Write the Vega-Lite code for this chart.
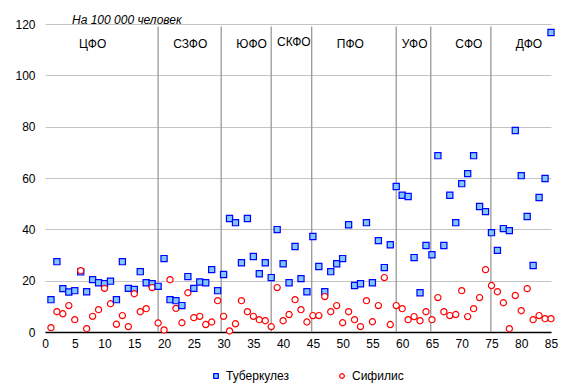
{
  "$schema": "https://vega.github.io/schema/vega-lite/v6.json",
  "autosize": {"type": "none"},
  "padding": {"left": 45, "top": 24, "right": 24, "bottom": 60},
  "width": 506,
  "height": 308,
  "title": {"text": "На 100 000 человек", "anchor": "start", "frame": "group", "dx": 27, "dy": 13, "offset": 4, "fontSize": 12, "fontStyle": "italic", "fontWeight": "normal", "font": "Liberation Sans", "color": "#000000"},
  "config": {
    "view": {"stroke": null},
    "font": "Liberation Sans",
    "axis": {"labelFont": "Liberation Sans", "labelFontSize": 12, "labelColor": "#000000", "ticks": false, "title": null, "labelOverlap": false},
    "legend": {"labelFont": "Liberation Sans", "labelFontSize": 12, "labelColor": "#000000"}
  },
  "datasets": {
    "pts": [
      {"n": 1, "Туберкулез": 12.6, "Сифилис": 1.7},
      {"n": 2, "Туберкулез": 27.4, "Сифилис": 7.9},
      {"n": 3, "Туберкулез": 16.9, "Сифилис": 7.1},
      {"n": 4, "Туберкулез": 15.6, "Сифилис": 10.3},
      {"n": 5, "Туберкулез": 16.1, "Сифилис": 4.8},
      {"n": 6, "Туберкулез": 23.4, "Сифилис": 23.9},
      {"n": 7, "Туберкулез": 15.7, "Сифилис": 1.3},
      {"n": 8, "Туберкулез": 20.4, "Сифилис": 6.1},
      {"n": 9, "Туберкулез": 19.2, "Сифилис": 8.7},
      {"n": 10, "Туберкулез": 18.8, "Сифилис": 17.0},
      {"n": 11, "Туберкулез": 19.8, "Сифилис": 11.0},
      {"n": 12, "Туберкулез": 12.6, "Сифилис": 3.0},
      {"n": 13, "Туберкулез": 27.4, "Сифилис": 6.4},
      {"n": 14, "Туберкулез": 17.0, "Сифилис": 2.1},
      {"n": 15, "Туберкулез": 16.6, "Сифилис": 14.9},
      {"n": 16, "Туберкулез": 23.5, "Сифилис": 7.9},
      {"n": 17, "Туберкулез": 19.2, "Сифилис": 9.1},
      {"n": 18, "Туберкулез": 18.8, "Сифилис": 17.3},
      {"n": 19, "Туберкулез": 17.8, "Сифилис": 3.5},
      {"n": 20, "Туберкулез": 28.6, "Сифилис": 0.8},
      {"n": 21, "Туберкулез": 12.6, "Сифилис": 20.4},
      {"n": 22, "Туберкулез": 12.2, "Сифилис": 9.2},
      {"n": 23, "Туберкулез": 10.3, "Сифилис": 3.6},
      {"n": 24, "Туберкулез": 21.6, "Сифилис": 15.3},
      {"n": 25, "Туберкулез": 17.0, "Сифилис": 5.6},
      {"n": 26, "Туберкулез": 19.5, "Сифилис": 6.1},
      {"n": 27, "Туберкулез": 19.2, "Сифилис": 2.9},
      {"n": 28, "Туберкулез": 24.3, "Сифилис": 3.9},
      {"n": 29, "Туберкулез": 16.1, "Сифилис": 12.2},
      {"n": 30, "Туберкулез": 22.4, "Сифилис": 6.1},
      {"n": 31, "Туберкулез": 44.2, "Сифилис": 0.4},
      {"n": 32, "Туберкулез": 42.6, "Сифилис": 3.2},
      {"n": 33, "Туберкулез": 27.0, "Сифилис": 12.2},
      {"n": 34, "Туберкулез": 44.2, "Сифилис": 7.9},
      {"n": 35, "Туберкулез": 29.4, "Сифилис": 6.1},
      {"n": 36, "Туберкулез": 22.7, "Сифилис": 4.8},
      {"n": 37, "Туберкулез": 27.0, "Сифилис": 4.4},
      {"n": 38, "Туберкулез": 21.2, "Сифилис": 2.1},
      {"n": 39, "Туберкулез": 39.9, "Сифилис": 17.3},
      {"n": 40, "Туберкулез": 26.6, "Сифилис": 4.4},
      {"n": 41, "Туберкулез": 19.2, "Сифилис": 6.8},
      {"n": 42, "Туберкулез": 33.3, "Сифилис": 12.6},
      {"n": 43, "Туберкулез": 20.8, "Сифилис": 8.7},
      {"n": 44, "Туберкулез": 15.7, "Сифилис": 3.9},
      {"n": 45, "Туберкулез": 37.2, "Сифилис": 6.4},
      {"n": 46, "Туберкулез": 25.5, "Сифилис": 6.4},
      {"n": 47, "Туберкулез": 15.7, "Сифилис": 13.8},
      {"n": 48, "Туберкулез": 23.5, "Сифилис": 7.9},
      {"n": 49, "Туберкулез": 26.6, "Сифилис": 10.3},
      {"n": 50, "Туберкулез": 28.6, "Сифилис": 3.6},
      {"n": 51, "Туберкулез": 41.8, "Сифилис": 7.9},
      {"n": 52, "Туберкулез": 18.1, "Сифилис": 4.8},
      {"n": 53, "Туберкулез": 18.8, "Сифилис": 2.1},
      {"n": 54, "Туберкулез": 42.6, "Сифилис": 12.2},
      {"n": 55, "Туберкулез": 19.2, "Сифилис": 4.0},
      {"n": 56, "Туберкулез": 35.6, "Сифилис": 10.3},
      {"n": 57, "Туберкулез": 25.1, "Сифилис": 21.2},
      {"n": 58, "Туберкулез": 34.0, "Сифилис": 2.9},
      {"n": 59, "Туберкулез": 56.7, "Сифилис": 10.3},
      {"n": 60, "Туберкулез": 53.3, "Сифилис": 9.1},
      {"n": 61, "Туберкулез": 52.8, "Сифилис": 4.8},
      {"n": 62, "Туберкулез": 29.0, "Сифилис": 6.0},
      {"n": 63, "Туберкулез": 15.3, "Сифилис": 4.4},
      {"n": 64, "Туберкулез": 33.7, "Сифилис": 7.9},
      {"n": 65, "Туберкулез": 30.1, "Сифилис": 4.8},
      {"n": 66, "Туберкулез": 68.7, "Сифилис": 13.4},
      {"n": 67, "Туберкулез": 33.7, "Сифилис": 7.9},
      {"n": 68, "Туберкулез": 53.3, "Сифилис": 6.4},
      {"n": 69, "Туберкулез": 42.6, "Сифилис": 6.8},
      {"n": 70, "Туберкулез": 57.8, "Сифилис": 16.1},
      {"n": 71, "Туберкулез": 61.7, "Сифилис": 6.0},
      {"n": 72, "Туберкулез": 68.7, "Сифилис": 9.1},
      {"n": 73, "Туберкулез": 48.9, "Сифилис": 13.4},
      {"n": 74, "Туберкулез": 46.9, "Сифилис": 24.3},
      {"n": 75, "Туберкулез": 38.7, "Сифилис": 18.1},
      {"n": 76, "Туберкулез": 31.8, "Сифилис": 15.7},
      {"n": 77, "Туберкулез": 40.3, "Сифилис": 11.4},
      {"n": 78, "Туберкулез": 39.5, "Сифилис": 1.3},
      {"n": 79, "Туберкулез": 78.5, "Сифилис": 14.2},
      {"n": 80, "Туберкулез": 60.9, "Сифилис": 8.3},
      {"n": 81, "Туберкулез": 45.0, "Сифилис": 16.9},
      {"n": 82, "Туберкулез": 25.9, "Сифилис": 4.8},
      {"n": 83, "Туберкулез": 52.4, "Сифилис": 6.4},
      {"n": 84, "Туберкулез": 59.8, "Сифилис": 5.2},
      {"n": 85, "Туберкулез": 116.7, "Сифилис": 5.2}
    ],
    "seps": [
      {"n": 19, "y": 0, "y2": 119},
      {"n": 29.6, "y": 0, "y2": 119},
      {"n": 38, "y": 0, "y2": 119},
      {"n": 44.8, "y": 0, "y2": 119},
      {"n": 59, "y": 0, "y2": 119},
      {"n": 64.8, "y": 0, "y2": 119},
      {"n": 74.9, "y": 0, "y2": 119}
    ],
    "regions": [
      {"n": 8.0, "y": 112.4, "label": "ЦФО"},
      {"n": 24.4, "y": 112.4, "label": "СЗФО"},
      {"n": 34.7, "y": 112.4, "label": "ЮФО"},
      {"n": 41.8, "y": 112.9, "label": "СКФО"},
      {"n": 51.3, "y": 112.4, "label": "ПФО"},
      {"n": 62.1, "y": 112.4, "label": "УФО"},
      {"n": 71.2, "y": 112.4, "label": "СФО"},
      {"n": 81.3, "y": 112.4, "label": "ДФО"}
    ]
  },
  "encoding": {
    "x": {"field": "n", "type": "quantitative", "scale": {"domain": [0, 85], "nice": false},
          "axis": {"values": [0,5,10,15,20,25,30,35,40,45,50,55,60,65,70,75,80,85], "grid": false, "domain": true, "domainColor": "#000000", "domainWidth": 1.5, "labelPadding": 6, "labelFlush": false, "labelOverlap": false, "ticks": false}}
  },
  "layer": [
    {
      "data": {"name": "seps"},
      "mark": {"type": "rule", "color": "#9a9a9a", "strokeWidth": 1.3},
      "encoding": {
        "y": {"field": "y", "type": "quantitative", "scale": {"domain": [0, 120], "nice": false},
              "axis": {"values": [0,20,40,60,80,100,120], "grid": true, "gridColor": "#c4c4c4", "gridWidth": 1, "domain": false, "labelPadding": 10, "ticks": false}},
        "y2": {"field": "y2"}
      }
    },
    {
      "data": {"name": "regions"},
      "mark": {"type": "text", "fontSize": 12, "font": "Liberation Sans", "color": "#000000"},
      "encoding": {
        "y": {"field": "y", "type": "quantitative"},
        "text": {"field": "label"}
      }
    },
    {
      "data": {"name": "pts"},
      "transform": [{"fold": ["Туберкулез", "Сифилис"], "as": ["disease", "v"]}],
      "mark": {"type": "point", "filled": false, "strokeWidth": 1.2, "size": 38, "opacity": 1},
      "encoding": {
        "y": {"field": "v", "type": "quantitative"},
        "shape": {"field": "disease", "type": "nominal", "scale": {"domain": ["Туберкулез", "Сифилис"], "range": ["square", "circle"]}, "legend": {"title": null}},
        "stroke": {"field": "disease", "type": "nominal", "scale": {"domain": ["Туберкулез", "Сифилис"], "range": ["#0000ff", "#ff0000"]}, "legend": {"title": null}},
        "fill": {"field": "disease", "type": "nominal", "scale": {"domain": ["Туберкулез", "Сифилис"], "range": ["#80c8ff", "#ffffff"]},
                 "legend": {"title": null, "orient": "none", "legendX": 165, "legendY": 346, "direction": "horizontal", "symbolSize": 22, "symbolStrokeWidth": 1.2, "columnPadding": 47, "labelOffset": 4}}
      }
    }
  ]
}
